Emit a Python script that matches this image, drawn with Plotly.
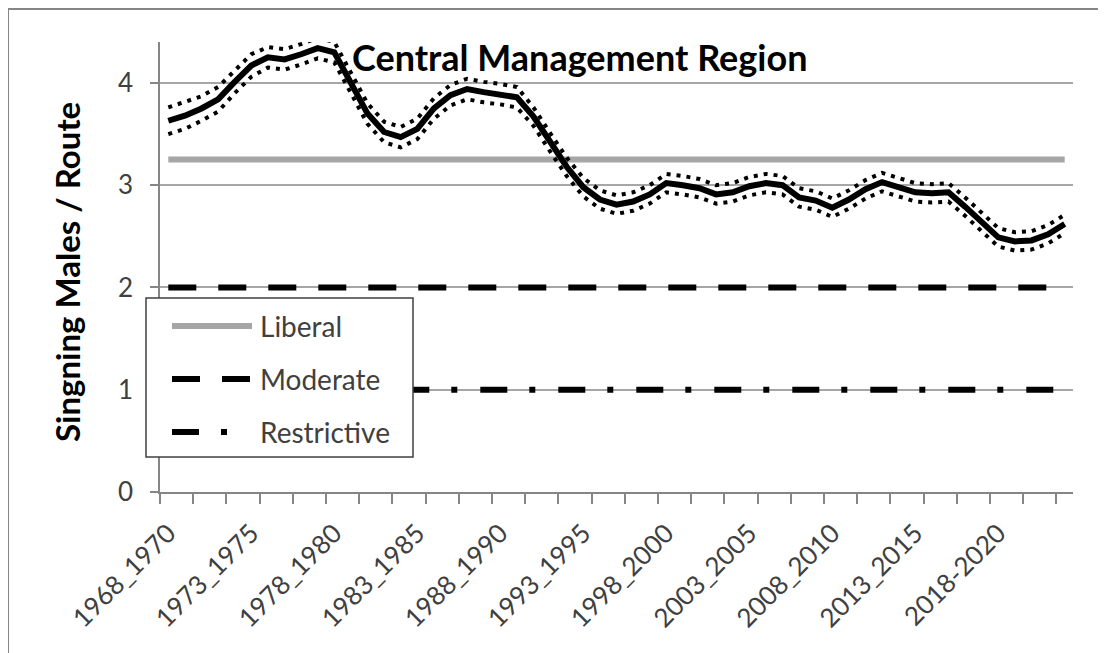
import plotly.graph_objects as go

categories = [
    "1968_1970", "1969_1971", "1970_1972", "1971_1973", "1972_1974",
    "1973_1975", "1974_1976", "1975_1977", "1976_1978", "1977_1979",
    "1978_1980", "1979_1981", "1980_1982", "1981_1983", "1982_1984",
    "1983_1985", "1984_1986", "1985_1987", "1986_1988", "1987_1989",
    "1988_1990", "1989_1991", "1990_1992", "1991_1993", "1992_1994",
    "1993_1995", "1994_1996", "1995_1997", "1996_1998", "1997_1999",
    "1998_2000", "1999_2001", "2000_2002", "2001_2003", "2002_2004",
    "2003_2005", "2004_2006", "2005_2007", "2006_2008", "2007_2009",
    "2008_2010", "2009_2011", "2010_2012", "2011_2013", "2012_2014",
    "2013_2015", "2014_2016", "2015_2017", "2016_2018", "2017_2019",
    "2018-2020", "2019_2021", "2020_2022", "2021_2023", "2022_2024",
]

singing_males = [
    3.63, 3.68, 3.75, 3.84, 4.01, 4.17, 4.25, 4.23, 4.28, 4.34,
    4.30, 3.99, 3.70, 3.52, 3.47, 3.55, 3.75, 3.88, 3.94, 3.91,
    3.89, 3.86, 3.67, 3.42, 3.18, 2.98, 2.86, 2.81, 2.84, 2.91,
    3.02, 3.00, 2.97, 2.91, 2.93, 2.99, 3.02, 3.00, 2.88, 2.85,
    2.78, 2.86, 2.96, 3.03, 2.98, 2.93, 2.92, 2.93, 2.79, 2.64,
    2.49, 2.45, 2.46, 2.52, 2.62,
]

upper_ci = [
    3.76, 3.81, 3.87, 3.96, 4.12, 4.28, 4.35, 4.33, 4.38, 4.44,
    4.40, 4.09, 3.80, 3.62, 3.57, 3.65, 3.85, 3.98, 4.04, 4.01,
    3.99, 3.96, 3.76, 3.51, 3.27, 3.07, 2.95, 2.90, 2.93, 3.00,
    3.11, 3.09, 3.06, 3.00, 3.02, 3.08, 3.11, 3.09, 2.97, 2.94,
    2.87, 2.95, 3.05, 3.12, 3.07, 3.02, 3.01, 3.02, 2.88, 2.73,
    2.58, 2.54, 2.55, 2.61, 2.71,
]

lower_ci = [
    3.50, 3.55, 3.63, 3.72, 3.90, 4.06, 4.15, 4.13, 4.18, 4.24,
    4.20, 3.89, 3.60, 3.42, 3.37, 3.45, 3.65, 3.78, 3.84, 3.81,
    3.79, 3.76, 3.58, 3.33, 3.09, 2.89, 2.77, 2.72, 2.75, 2.82,
    2.93, 2.91, 2.88, 2.82, 2.84, 2.90, 2.93, 2.91, 2.79, 2.76,
    2.69, 2.77, 2.87, 2.94, 2.89, 2.84, 2.83, 2.84, 2.70, 2.55,
    2.40, 2.36, 2.37, 2.43, 2.53,
]

liberal_threshold = 3.25
moderate_threshold = 2.0
restrictive_threshold = 1.0

label_every = 5
tick_every = 2

y_ticks = [0, 1, 2, 3, 4]
legend_names = ["Liberal", "Moderate", "Restrictive"]

x_idx = list(range(len(categories)))
n = len(categories)

# geometry (pixels); the page body adds an 8px margin, so the figure is
# drawn 8px smaller and every reference position is shifted by 8px
O = 8
W, H = 1106 - O, 653 - O
L, T = 160 - O, 42 - O
R = W - (1073 - O)
B = H - (492 - O)
pw, ph = W - L - R, H - T - B


def px(xp):
    return (xp - O - L) / pw


def py(yp):
    return (H - B - (yp - O)) / ph


GRAY = "#A6A6A6"
AXIS = "#868686"
TXT = "#404040"
FONT = "Lato"

MOD_DASH = "28px,22px"
RES_DASH = "27px,22px,6px,23px"

fig = go.Figure()

fig.add_trace(go.Scatter(
    x=x_idx, y=[liberal_threshold] * n, mode="lines", name="Liberal",
    line=dict(color=GRAY, width=6), showlegend=False))
fig.add_trace(go.Scatter(
    x=x_idx, y=[moderate_threshold] * n, mode="lines", name="Moderate",
    line=dict(color="black", width=6, dash=MOD_DASH), showlegend=False))
fig.add_trace(go.Scatter(
    x=x_idx, y=[restrictive_threshold] * n, mode="lines", name="Restrictive",
    line=dict(color="black", width=6, dash=RES_DASH), showlegend=False))

fig.add_trace(go.Scatter(
    x=x_idx, y=upper_ci, mode="lines", name="Upper CI",
    line=dict(color="black", width=4, dash="4px,6px"), showlegend=False))
fig.add_trace(go.Scatter(
    x=x_idx, y=lower_ci, mode="lines", name="Lower CI",
    line=dict(color="black", width=4, dash="4px,6px"), showlegend=False))
fig.add_trace(go.Scatter(
    x=x_idx, y=singing_males, mode="lines", name="Singing males / route",
    line=dict(color="black", width=6), showlegend=False))

label_pos = list(range(0, n, label_every))
boundaries = [k - 0.5 for k in range(0, n, tick_every)]

fig.update_xaxes(
    range=[-0.5, n - 0.5],
    tickmode="array", tickvals=label_pos,
    ticktext=[categories[i] for i in label_pos],
    tickangle=-45,
    ticks="outside", ticklen=10, tickcolor="rgba(0,0,0,0)",
    minor=dict(tickvals=boundaries, ticks="outside", ticklen=10,
               tickcolor=AXIS, tickwidth=1.5, showgrid=False),
    showline=True, linecolor=AXIS, linewidth=1.5,
    showgrid=False, zeroline=False,
    tickfont=dict(family=FONT, size=26, color=TXT),
    ticklabelstandoff=4,
)
fig.update_yaxes(
    range=[0, 4.4],
    tickmode="array", tickvals=y_ticks,
    ticks="outside", ticklen=8, tickcolor=AXIS, tickwidth=1.5,
    showline=True, linecolor=AXIS, linewidth=1.5,
    showgrid=True, gridcolor=GRAY, gridwidth=1.5, zeroline=False,
    tickfont=dict(family=FONT, size=26, color=TXT),
    ticklabelstandoff=12,
)

shapes = []
# outer chart border (top and left visible)
shapes.append(dict(type="rect", xref="paper", yref="paper",
                   x0=px(8), x1=px(1170), y0=py(720), y1=py(9),
                   line=dict(color=AXIS, width=2), fillcolor="rgba(0,0,0,0)",
                   layer="above"))
# legend box
shapes.append(dict(type="rect", xref="paper", yref="paper",
                   x0=px(146), x1=px(413), y0=py(457), y1=py(298),
                   line=dict(color="#404040", width=1.5), fillcolor="white",
                   layer="above"))
legend_y = [326, 379, 432]
legend_x1 = [252, 252, 248]
legend_styles = [dict(color=GRAY, width=6),
                 dict(color="black", width=6, dash=MOD_DASH),
                 dict(color="black", width=6, dash=RES_DASH)]
annotations = []
for name, yy, xe, st in zip(legend_names, legend_y, legend_x1, legend_styles):
    shapes.append(dict(type="line", xref="paper", yref="paper",
                       x0=px(172), x1=px(xe), y0=py(yy), y1=py(yy),
                       line=st, layer="above"))
    annotations.append(dict(xref="paper", yref="paper", x=px(258), y=py(yy),
                            text=name, showarrow=False, xanchor="left",
                            yanchor="middle",
                            font=dict(family=FONT, size=28, color=TXT)))

annotations.append(dict(xref="paper", yref="paper", x=px(579), y=py(57),
                        text="<b>Central Management Region</b>",
                        showarrow=False, xanchor="center", yanchor="middle",
                        font=dict(family=FONT, size=36, color="black")))
annotations.append(dict(xref="paper", yref="paper", x=px(67), y=py(272),
                        text="<b>Singning Males / Route</b>", textangle=-90,
                        showarrow=False, xanchor="center", yanchor="middle",
                        font=dict(family=FONT, size=33, color="black")))

fig.update_layout(
    width=W, height=H,
    margin=dict(l=L, r=R, t=T, b=B, autoexpand=False),
    paper_bgcolor="white", plot_bgcolor="white",
    shapes=shapes, annotations=annotations,
    showlegend=False,
)

fig.write_html("out.html")
